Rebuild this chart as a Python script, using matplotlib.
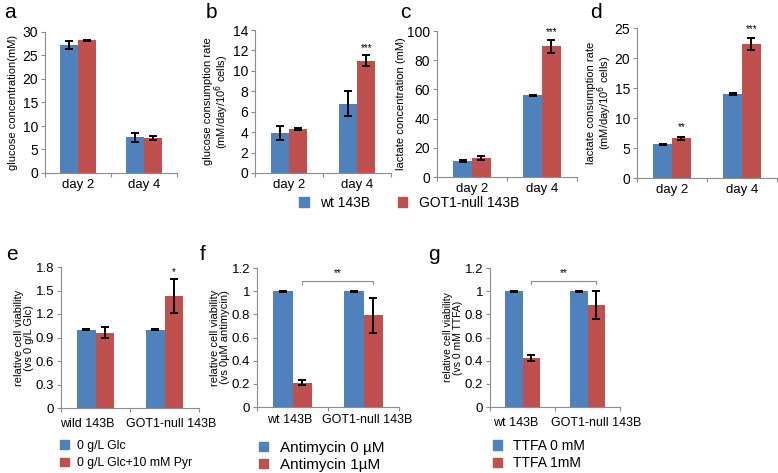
import matplotlib.pyplot as plt
from matplotlib.patches import Patch
from matplotlib.transforms import ScaledTranslation

plt.rcParams['font.family'] = ['Liberation Sans', 'DejaVu Sans']

BLUE = '#4F81BD'
RED = '#C0504D'
GRAY = '#8c8c8c'

days = ['day 2', 'day 4']

# a: glucose concentration
a_wt = [27.2, 7.6]
a_wt_err = [0.8, 1.0]
a_ko = [28.2, 7.4]
a_ko_err = [0.15, 0.4]

# b: glucose consumption rate
b_wt = [3.9, 6.8]
b_wt_err = [0.7, 1.2]
b_ko = [4.3, 11.0]
b_ko_err = [0.1, 0.55]

# c: lactate concentration
c_wt = [11.0, 56.0]
c_wt_err = [0.5, 0.5]
c_ko = [13.0, 89.5]
c_ko_err = [1.2, 4.5]

# d: lactate consumption rate
d_wt = [5.6, 14.0]
d_wt_err = [0.15, 0.1]
d_ko = [6.6, 22.4]
d_ko_err = [0.3, 1.0]

# e, f, g: relative viability
e_cats = ['wild 143B', 'GOT1-null 143B']
e_ctrl = [1.0, 1.0]
e_ctrl_err = [0.005, 0.005]
e_trt = [0.96, 1.43]
e_trt_err = [0.07, 0.22]

fg_cats = ['wt 143B', 'GOT1-null 143B']
f_ctrl = [1.0, 1.0]
f_ctrl_err = [0.005, 0.005]
f_trt = [0.21, 0.79]
f_trt_err = [0.02, 0.15]

g_ctrl = [1.0, 1.0]
g_ctrl_err = [0.005, 0.005]
g_trt = [0.42, 0.88]
g_trt_err = [0.025, 0.12]

W, H = 778, 473
fig = plt.figure(figsize=(W / 100, H / 100), dpi=100)


def px_axes(left, right, top, bottom):
    return fig.add_axes([left / W, 1 - bottom / H, (right - left) / W, (bottom - top) / H])


def bars(ax, cats, v1, e1, v2, e2, ymax, step, ylabel, xfs=9.5, yfs=10, lsize=8,
         bw=0.27, xpad=6, shift=(0, 0), lpad=1):
    x = [0.5, 1.5]
    ekw = dict(ecolor='black', capsize=3, elinewidth=1.4, capthick=1.4)
    ax.bar([i - bw / 2 for i in x], v1, bw, yerr=e1, color=BLUE, error_kw=ekw)
    ax.bar([i + bw / 2 for i in x], v2, bw, yerr=e2, color=RED, error_kw=ekw)
    ax.set_xlim(0, 2)
    ax.set_ylim(0, ymax)
    ticks = []
    t = 0.0
    while t <= ymax + 1e-9:
        ticks.append(round(t, 3))
        t += step
    ax.set_yticks(ticks)
    ax.set_yticklabels(['%g' % v for v in ticks])
    # category labels as text so they can sit a bit off-centre like the original
    ax.set_xticks([0, 1, 2])
    ax.set_xticklabels([])
    for xi, cat, dx in zip(x, cats, shift):
        tr = ax.get_xaxis_transform() + ScaledTranslation(dx / 100, -xpad / 100, fig.dpi_scale_trans)
        ax.text(xi, 0, cat, transform=tr, ha='center', va='top', fontsize=xfs)
    ax.tick_params(axis='x', length=3, color=GRAY, direction='out')
    ax.tick_params(axis='y', labelsize=yfs, length=3, color=GRAY, pad=2)
    for s in ['top', 'right']:
        ax.spines[s].set_visible(False)
    for s in ['left', 'bottom']:
        ax.spines[s].set_color(GRAY)
    ax.set_ylabel(ylabel, fontsize=lsize, labelpad=lpad, linespacing=1.0)
    return x


def stars(ax, x, y, s):
    ax.text(x, y, s, ha='center', va='bottom', fontsize=7)


def bracket(ax, x0, x1, y, s):
    ax.plot([x0, x0, x1, x1], [y - 0.025, y, y, y - 0.025], color=GRAY, lw=0.8)
    ax.text((x0 + x1) / 2, y + 0.02, s, ha='center', va='bottom', fontsize=7)


bw = 0.27
ax = px_axes(45, 177, 32, 173)
bars(ax, days, a_wt, a_wt_err, a_ko, a_ko_err, 30, 5, 'glucose concentration(mM)', lpad=3)

ax = px_axes(255, 391, 30, 173)
x = bars(ax, days, b_wt, b_wt_err, b_ko, b_ko_err, 14, 2,
         'glucose consumption rate\n(mM/day/10$^6$ cells)')
stars(ax, x[1] + bw / 2, b_ko[1] + b_ko_err[1] + 0.2, '***')

ax = px_axes(437, 577, 31, 177)
x = bars(ax, days, c_wt, c_wt_err, c_ko, c_ko_err, 100, 20, 'lactate concentration (mM)')
stars(ax, x[1] + bw / 2, c_ko[1] + c_ko_err[1] + 1.5, '***')

ax = px_axes(637, 777, 28, 178)
x = bars(ax, days, d_wt, d_wt_err, d_ko, d_ko_err, 25, 5,
         'lactate consumption rate\n(mM/day/10$^6$ cells)', lpad=0)
stars(ax, x[0] + bw / 2, d_ko[0] + d_ko_err[0] + 0.8, '**')
stars(ax, x[1] + bw / 2, d_ko[1] + d_ko_err[1] + 0.6, '***')

fig.legend(handles=[Patch(color=BLUE, label='wt 143B'), Patch(color=RED, label='GOT1-null 143B')],
           loc='center', bbox_to_anchor=(409 / W, 1 - 203 / H), ncol=2, frameon=False,
           fontsize=10, handlelength=0.7, handleheight=0.7, columnspacing=2.0, handletextpad=0.8)

bw2 = 0.275
ax = px_axes(61, 199, 267, 408)
x = bars(ax, e_cats, e_ctrl, e_ctrl_err, e_trt, e_trt_err, 1.8, 0.3,
         'relative cell viability\n(vs 0 g/L Glc)', xfs=9, yfs=9.5, bw=bw2, xpad=10,
         shift=(-8, 7))
stars(ax, x[1] + bw2 / 2, e_trt[1] + e_trt_err[1] + 0.02, '*')
ax.legend(handles=[Patch(color=BLUE, label='0 g/L Glc'), Patch(color=RED, label='0 g/L Glc+10 mM Pyr')],
          loc='upper left', bbox_to_anchor=(-0.04, -0.19), frameon=False, fontsize=8.8,
          handlelength=0.7, handleheight=0.7, handletextpad=0.7, labelspacing=0.45, borderaxespad=0)

ax = px_axes(257, 399, 268, 407)
x = bars(ax, fg_cats, f_ctrl, f_ctrl_err, f_trt, f_trt_err, 1.2, 0.2,
         'relative cell viability\n(vs 0\u00b5M antimycin)', xfs=9, yfs=9.5, bw=bw2, xpad=7,
         shift=(-3, 4))
bracket(ax, x[0] + bw2 / 2, x[1] + bw2 / 2, 1.09, '**')
ax.legend(handles=[Patch(color=BLUE, label='Antimycin 0 \u00b5M'), Patch(color=RED, label='Antimycin 1\u00b5M')],
          loc='upper left', bbox_to_anchor=(-0.03, -0.2), frameon=False, fontsize=11,
          handlelength=0.6, handleheight=0.6, handletextpad=0.8, labelspacing=0.2, borderaxespad=0)

ax = px_axes(490, 620, 268, 407)
x = bars(ax, fg_cats, g_ctrl, g_ctrl_err, g_trt, g_trt_err, 1.2, 0.2,
         'relative cell viability\n(vs 0 mM TTFA)', xfs=9, yfs=9.5, bw=bw2, lsize=7.5, xpad=10,
         shift=(-7, 9))
bracket(ax, x[0] + bw2 / 2, x[1] + bw2 / 2, 1.09, '**')
ax.legend(handles=[Patch(color=BLUE, label='TTFA 0 mM'), Patch(color=RED, label='TTFA 1mM')],
          loc='upper left', bbox_to_anchor=(-0.02, -0.19), frameon=False, fontsize=10,
          handlelength=0.65, handleheight=0.65, handletextpad=0.8, labelspacing=0.25, borderaxespad=0)

for lab, px, py in [('a', 4, 12), ('b', 206, 12), ('c', 400, 12), ('d', 590, 12),
                    ('e', 6, 254), ('f', 200, 254), ('g', 428, 254)]:
    fig.text(px / W, 1 - py / H, lab, fontsize=15, va='center', ha='left')

fig.savefig('out.png', dpi=100)
